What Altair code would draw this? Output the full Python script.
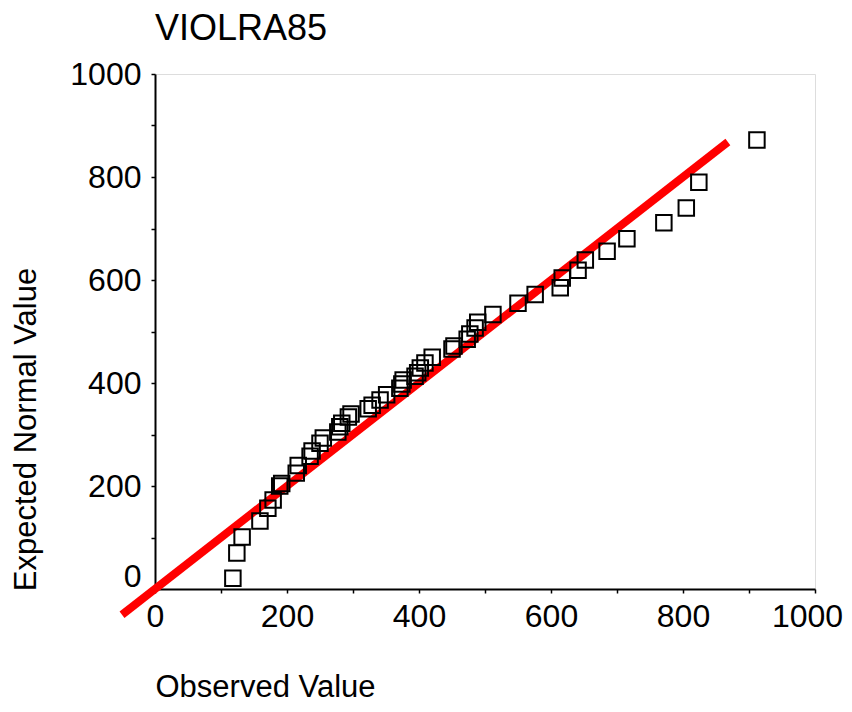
import altair as alt
import pandas as pd

observed = [118, 124, 132, 159, 171, 179, 189, 192, 214, 217, 235, 238, 250, 255,
            277, 280, 283, 293, 297, 323, 329, 341, 351, 371, 374, 376, 394, 398,
            402, 409, 420, 450, 453, 473, 477, 485, 489, 512, 550, 576, 614, 617,
            641, 652, 685, 715, 771, 805, 824, 912]
expected = [21, 70, 101, 132, 157, 173, 200, 205, 225, 240, 258, 268, 283, 293,
            305, 315, 322, 334, 340, 350, 357, 367, 377, 390, 398, 406, 413, 420,
            429, 439, 450, 466, 472, 485, 495, 507, 518, 533, 555, 572, 585, 604,
            619, 639, 656, 680, 711, 740, 790, 872]
line_x = [-50, 868]
line_y = [-50, 868]

pts = pd.DataFrame({"obs": observed, "exp": expected})
ln = pd.DataFrame({"obs": line_x, "exp": line_y})

FONT = "Liberation Sans"

xs = alt.Scale(domain=[0, 1000], nice=False, zero=False)
ys = alt.Scale(domain=[0, 1000], nice=False, zero=False)

xaxis = alt.Axis(
    values=list(range(0, 1001, 100)), format="d",
    labelExpr="datum.value % 200 == 0 ? datum.label : ''",
    grid=False, tickSize=4, tickColor="black", tickWidth=1.5,
    domainColor="black", domainWidth=2,
    labelFont=FONT, labelFontSize=32, labelColor="black", labelPadding=8,
    labelFlush=False, labelOverlap=False,
    labelOffset={"expr": "datum.value == 1000 ? -8 : 0"},
    title="Observed Value", titleFont=FONT, titleFontSize=31,
    titleFontWeight="normal", titleColor="black",
    titleX=0, titleY=98, titleAlign="left", titleBaseline="middle",
)
yaxis = alt.Axis(
    values=list(range(0, 1001, 100)), format="d",
    labelExpr="datum.value % 200 == 0 ? datum.label : ''",
    grid=False, tickSize=4, tickColor="black", tickWidth=1.5,
    domainColor="black", domainWidth=2,
    labelFont=FONT, labelFontSize=32, labelColor="black", labelPadding=10,
    labelFlush=False, labelOverlap=False,
    labelOffset={"expr": "datum.value == 0 ? -13 : 0"},
    title="Expected Normal Value", titleFont=FONT, titleFontSize=31,
    titleFontWeight="normal", titleColor="black",
    titleX=-129, titleY=355, titleAlign="center", titleBaseline="middle",
)

line = alt.Chart(ln).mark_line(color="#ff0000", strokeWidth=8, clip=False).encode(
    x=alt.X("obs:Q", scale=xs, axis=xaxis),
    y=alt.Y("exp:Q", scale=ys, axis=yaxis),
)
points = alt.Chart(pts).mark_point(
    shape="square", size=240, filled=False, color="black", strokeWidth=2, opacity=1
).encode(
    x=alt.X("obs:Q", scale=xs),
    y=alt.Y("exp:Q", scale=ys),
)

chart = alt.layer(line, points).properties(
    width=660, height=515,
    title=alt.TitleParams("VIOLRA85", anchor="start", frame="group", font=FONT,
                          fontSize=36, fontWeight="normal", color="black", offset=10),
    autosize=alt.AutoSizeParams(type="none"),
    padding={"left": 147, "top": 66, "right": 29, "bottom": 115},
).configure_view(stroke="black", strokeWidth=1.5).configure(background="white")

chart.save("out.html", embed_options={"renderer": "svg", "actions": False})
